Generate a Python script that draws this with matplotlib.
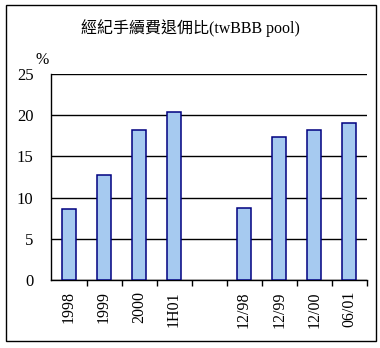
import matplotlib
matplotlib.use('Agg')
import matplotlib.pyplot as plt
import numpy as np

plt.rcParams['font.family'] = ['Liberation Serif', 'Noto Sans CJK TC']

labels = ['1998', '1999', '2000', '1H01', '', '12/98', '12/99', '12/00', '06/01']
values = [8.6, 12.8, 18.2, 20.35, np.nan, 8.7, 17.3, 18.2, 19.1]
yticks = [0, 5, 10, 15, 20, 25]

fig = plt.figure(figsize=(3.8, 3.48), dpi=100)
ax = fig.add_axes([0.1355, 0.1954, 0.8295, 0.592])

x = np.arange(len(labels))
ax.bar(x, values, width=0.41, color='#a6caf0', edgecolor='#000080', linewidth=1.1, zorder=3)

ax.set_xlim(-0.5, len(labels) - 0.5)
ax.set_ylim(0, 25)
ax.set_yticks(yticks)
ax.yaxis.grid(True, color='black', linewidth=1, zorder=1)
ax.tick_params(axis='y', length=0, pad=13, labelsize=12)

# category labels centred, tick marks on the boundaries
ax.set_xticks(x)
ax.set_xticklabels(labels, rotation=90, fontsize=11.5)
ax.tick_params(axis='x', which='major', length=0, pad=8)
ax.set_xticks(np.arange(0.5, len(labels), 1), minor=True)
ax.tick_params(axis='x', which='minor', length=4, width=1, direction='out')

for s in ['top', 'right']:
    ax.spines[s].set_visible(False)
for s in ['left', 'bottom']:
    ax.spines[s].set_linewidth(1)

fig.text(0.111, 0.828, '%', fontsize=11.5, ha='center', va='center')
fig.text(0.5, 0.918, '經紀手續費退佣比(twBBB pool)', fontsize=11.5, ha='center', va='center')

# outer frame
frame = plt.Rectangle((6 / 380, 7 / 348), 370 / 380, 336 / 348, transform=fig.transFigure,
                      fill=False, edgecolor='black', linewidth=1)
fig.patches.append(frame)

fig.savefig('out.png', dpi=100)
